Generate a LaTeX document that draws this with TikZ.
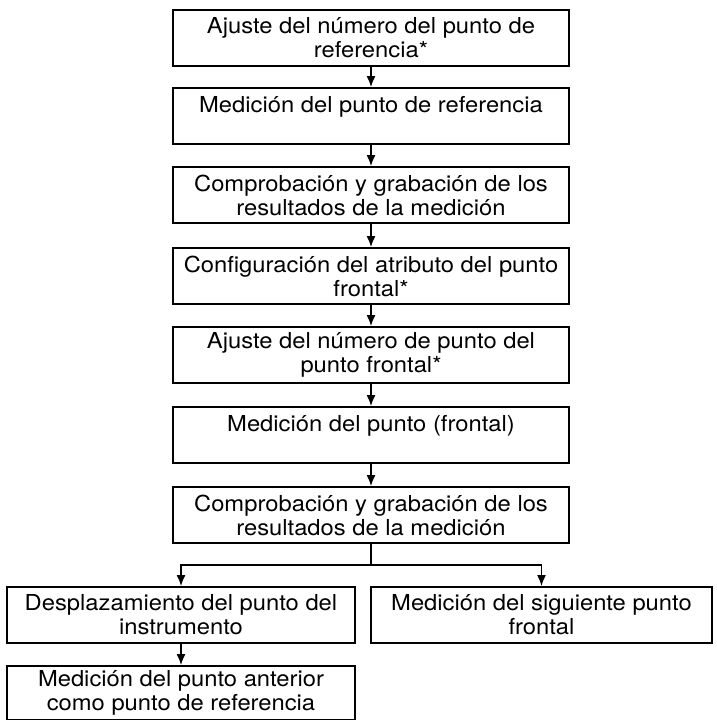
\documentclass[tikz,border=0pt]{standalone}
\usepackage{fontspec}
\setmainfont{TeX Gyre Heros}[FakeStretch=1.08]
\usetikzlibrary{arrows.meta,calc}

\begin{document}
\begin{tikzpicture}[x=1pt,y=-1pt,>={Latex[length=11pt,width=9pt]},
 caja/.style={draw,line width=2pt,minimum width=396pt,minimum height=56pt,anchor=north,
  align=center,inner sep=0pt,font=\fontsize{22}{24}\selectfont},
 ramal/.style={caja,minimum width=348pt},
 flecha/.style={->,line width=1.3pt}]
 \useasboundingbox (0,0) rectangle (716,720);
 \node[caja] (p1) at (371,9) {Ajuste del número del punto de\\referencia*};
 \node[caja] (p2) at (371,87) {Medición del punto de referencia\\\mbox{}};
 \node[caja] (p3) at (371,166) {Comprobación y grabación de los\\resultados de la medición};
 \node[caja] (p4) at (371,247) {Configuración del atributo del punto\\frontal*};
 \node[caja] (p5) at (371,326) {Ajuste del número de punto del\\punto frontal*};
 \node[caja] (p6) at (371,406) {Medición del punto (frontal)\\\mbox{}};
 \node[caja] (p7) at (371,486) {Comprobación y grabación de los\\resultados de la medición};
 \node[ramal] (desplaz) at (181,586) {Desplazamiento del punto del\\instrumento};
 \node[ramal,minimum width=341pt] (siguiente) at (541.5,586) {Medición del siguiente punto\\frontal};
 \node[ramal,minimum height=54pt] (anterior) at (181,665) {Medición del punto anterior\\como punto de referencia};
 \foreach \a/\b in {p1/p2,p2/p3,p3/p4,p4/p5,p5/p6,p6/p7,desplaz/anterior}
  \draw[flecha] (\a.south) -- (\b.north);
 \coordinate (rama) at ($(p7.south)+(0,21)$);
 \draw[line width=1.3pt] (p7.south) -- (rama);
 \draw[flecha] (rama) -| (desplaz.north);
 \draw[flecha] (rama) -| (siguiente.north);
\end{tikzpicture}
\end{document}
